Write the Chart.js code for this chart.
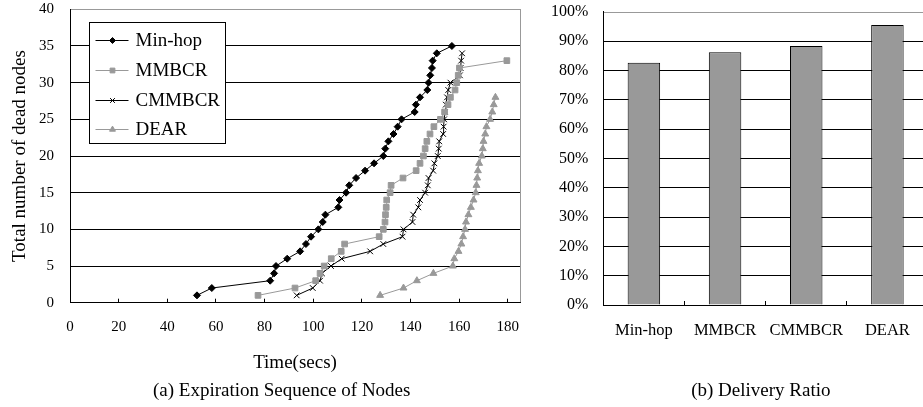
<!DOCTYPE html>
<html>
<head>
<meta charset="utf-8">
<script src="https://cdn.jsdelivr.net/npm/chart.js@4.4.0/dist/chart.umd.min.js"></script>
<style>
html,body{margin:0;padding:0;background:#fff;overflow:hidden;width:923px;height:407px;}
#ca{position:absolute;left:0;top:0;z-index:1;}
#cb{position:absolute;left:540px;top:0;z-index:2;}
</style>
</head>
<body>
<canvas id="ca" width="564" height="407"></canvas>
<canvas id="cb" width="442" height="407"></canvas>
<script>
// ---------- data: (a) expiration sequence ----------
const seriesNames = ['Min-hop', 'MMBCR', 'CMMBCR', 'DEAR'];
const minHopTime = [52.2, 58.3, 82.3, 83.9, 84.7, 89.3, 94.6, 97, 99.1, 102.1, 103.9, 105, 110.3, 110.8, 113.5, 114.8, 117.6, 121.3, 125, 128.8, 129.6, 130.9, 133, 134.7, 136.3, 141.7, 142.2, 143.9, 146.9, 147.4, 148.1, 148.8, 149.1, 150.8, 157];
const minHopDead = [1,2,3,4,5,6,7,8,9,10,11,12,13,14,15,16,17,18,19,20,21,22,23,24,25,26,27,28,29,30,31,32,33,34,35];
const mmbcrTime = [77.3, 92.5, 101, 102.8, 104.5, 107.4, 111.5, 112.9, 127.1, 128.8, 129.5, 129.7, 130, 130.2, 131.6, 132, 136.9, 142.3, 143.9, 145.3, 146, 146.7, 148, 149.6, 152.3, 154, 155.4, 156.4, 158.3, 159, 159.6, 160.1, 179.6];
const mmbcrDead = [1,2,3,4,5,6,7,8,9,10,11,12,13,14,15,16,17,18,19,20,21,22,23,24,25,26,27,28,29,30,31,32,33];
const cmmbcrTime = [93.2, 99.8, 102.8, 103.6, 107.3, 111.7, 123.4, 128.8, 136.7, 137.1, 140.8, 141.1, 143.2, 143.9, 146, 147.1, 147.4, 149.3, 149.8, 151.2, 151.6, 151.8, 153.4, 153.6, 153.8, 154.2, 154.5, 155, 155.5, 156.4, 160.3, 160.6, 160.8, 161.2];
const cmmbcrDead = [1,2,3,4,5,6,7,8,9,10,11,12,13,14,15,16,17,18,19,20,21,22,23,24,25,26,27,28,29,30,31,32,33,34];
const dearTime = [127.5, 137.1, 142.6, 149.4, 157.4, 158, 159.7, 160.9, 161.6, 162.4, 162.8, 163.8, 164.8, 165.9, 166.8, 167.1, 167.4, 167.7, 168.2, 169.3, 169.7, 170, 170.7, 171.2, 172.7, 173.6, 174.2, 174.9];
const dearDead = [1,2,3,4,5,6,7,8,9,10,11,12,13,14,15,16,17,18,19,20,21,22,23,24,25,26,27,28];
const xTickValues = [0, 20, 40, 60, 80, 100, 120, 140, 160, 180];
const yTickValues = [0, 5, 10, 15, 20, 25, 30, 35, 40];

// ---------- data: (b) delivery ratio ----------
const barCategories = ['Min-hop', 'MMBCR', 'CMMBCR', 'DEAR'];
const deliveryRatio = [82.6, 86.2, 88.3, 95.5];
const pctTickValues = [0, 10, 20, 30, 40, 50, 60, 70, 80, 90, 100];

const FAM = '"Liberation Serif", "Times New Roman", serif';
const pts = (xs, ys) => xs.map((x, i) => ({x: x, y: ys[i]}));

const frame = {
  id: 'frame',
  beforeDraw(chart) {
    const {ctx, chartArea: a} = chart;
    ctx.save();
    ctx.strokeStyle = '#999';
    ctx.lineWidth = 1;
    ctx.strokeRect(Math.round(a.left) + 0.5, Math.round(a.top) + 0.5, Math.round(a.right - a.left), Math.round(a.bottom - a.top));
    ctx.restore();
  }
};

function drawMarker(ctx, style, r, x, y) {
  if (Chart.helpers && Chart.helpers.drawPoint) {
    Chart.helpers.drawPoint(ctx, {pointStyle: style, radius: r, borderWidth: 1, rotation: 0}, x, y);
  }
}

const boxLegend = {
  id: 'boxLegend',
  afterDatasetsDraw(chart) {
    const {ctx, chartArea: a} = chart;
    const x0 = Math.round(a.left + 19) + 0.5, y0 = Math.round(a.top + 13) + 0.5, w = 136, h = 121;
    ctx.save();
    ctx.fillStyle = '#fff';
    ctx.fillRect(x0, y0, w, h);
    ctx.strokeStyle = '#000';
    ctx.lineWidth = 1;
    ctx.strokeRect(x0, y0, w, h);
    chart.data.datasets.forEach((ds, i) => {
      const cy = Math.round(y0 + 17.5 + i * 29.8) + 0.5;
      ctx.strokeStyle = ds.borderColor;
      ctx.lineWidth = 1;
      ctx.beginPath();
      ctx.moveTo(x0 + 6, cy);
      ctx.lineTo(x0 + 39, cy);
      ctx.stroke();
      ctx.fillStyle = ds.pointBackgroundColor;
      ctx.strokeStyle = ds.pointBorderColor;
      drawMarker(ctx, ds.pointStyle, ds.pointRadius * 0.85, x0 + 23, cy);
      ctx.fillStyle = '#000';
      ctx.font = '19px ' + FAM;
      ctx.textBaseline = 'middle';
      ctx.textAlign = 'left';
      ctx.fillText(ds.label, x0 + 46, cy + 1);
    });
    ctx.restore();
  }
};

// invisible spacer axis so that the bottom caption is centred where the reference has it
const spacerAxis = (w) => ({
  type: 'linear', position: 'right', display: true,
  grid: {display: false, drawTicks: false}, border: {display: false}, ticks: {display: false},
  afterFit: s => { s.width = w; s.paddingTop = 0; s.paddingBottom = 0; }
});

const lineDs = (label, xs, ys, color, style, r) => ({
  label: label, data: pts(xs, ys), showLine: true, tension: 0,
  borderColor: color, backgroundColor: color, borderWidth: 1,
  pointStyle: style, pointRadius: r, pointBackgroundColor: color,
  pointBorderColor: color, pointBorderWidth: 1, xAxisID: 'x', yAxisID: 'y'
});

new Chart(document.getElementById('ca'), {
  type: 'scatter',
  data: {
    datasets: [
      lineDs(seriesNames[0], minHopTime, minHopDead, '#000', 'rectRot', 3.5),
      lineDs(seriesNames[1], mmbcrTime, mmbcrDead, '#999', 'rect', 4),
      lineDs(seriesNames[2], cmmbcrTime, cmmbcrDead, '#000', 'crossRot', 4),
      lineDs(seriesNames[3], dearTime, dearDead, '#999', 'triangle', 4)
    ]
  },
  options: {
    responsive: false, animation: false, devicePixelRatio: 1,
    layout: {padding: {left: 0, right: 0.6, top: 9.3, bottom: 5}},
    plugins: {
      legend: {display: false}, tooltip: {enabled: false},
      title: {display: true, position: 'bottom', text: '(a) Expiration Sequence of Nodes', color: '#000',
        font: {family: FAM, size: 19, weight: 'normal'}, padding: {top: 0, bottom: 0}}
    },
    scales: {
      x: {
        type: 'linear', min: 0, max: 185,
        afterBuildTicks: s => { s.ticks = xTickValues.map(v => ({value: v})); },
        afterFit: s => { s.height = 76.5; s.paddingLeft = 0; s.paddingRight = 0; },
        grid: {drawOnChartArea: false, drawTicks: true, tickLength: -4, color: '#000', lineWidth: 1},
        border: {color: '#000', width: 1},
        ticks: {color: '#000', font: {family: FAM, size: 15}, padding: 19.8, maxRotation: 0, autoSkip: false},
        title: {display: true, text: 'Time(secs)', color: '#000', font: {family: FAM, size: 19}, padding: {top: 0, bottom: 4.8}}
      },
      y: {
        type: 'linear', position: 'left', min: 0, max: 40,
        afterBuildTicks: s => { s.ticks = yTickValues.map(v => ({value: v})); },
        afterFit: s => { s.width = 70; s.paddingTop = 0; s.paddingBottom = 0; },
        grid: {color: c => (c.tick && c.tick.value === 40) ? 'rgba(0,0,0,0)' : '#000', drawTicks: false, lineWidth: 1},
        border: {color: '#000', width: 1},
        ticks: {color: '#000', font: {family: FAM, size: 15}, padding: 16},
        title: {display: true, text: 'Total number of dead nodes', color: '#000', font: {family: FAM, size: 19}, padding: {top: 8.6, bottom: 0}}
      },
      spacer: spacerAxis(43.4)
    }
  },
  plugins: [frame, boxLegend]
});

new Chart(document.getElementById('cb'), {
  type: 'bar',
  data: {
    labels: barCategories,
    datasets: [{
      label: 'Delivery Ratio', data: deliveryRatio,
      backgroundColor: '#999', borderColor: '#000', borderWidth: 1,
      barPercentage: 0.4, categoryPercentage: 1, xAxisID: 'x', yAxisID: 'y'
    }]
  },
  options: {
    responsive: false, animation: false, devicePixelRatio: 1,
    layout: {padding: {left: 0, right: 0.4, top: 11.7, bottom: 5}},
    plugins: {
      legend: {display: false}, tooltip: {enabled: false},
      title: {display: true, position: 'bottom', text: '(b) Delivery Ratio', color: '#000',
        font: {family: FAM, size: 19, weight: 'normal'}, padding: {top: 0, bottom: 0}}
    },
    scales: {
      x: {
        afterFit: s => { s.height = 74.2; s.paddingLeft = 0; s.paddingRight = 0; },
        grid: {drawOnChartArea: false, drawTicks: true, tickLength: -4, color: '#000', lineWidth: 1, offset: true},
        border: {color: '#000', width: 1},
        ticks: {color: '#000', font: {family: FAM, size: 16.5}, padding: 20.1, maxRotation: 0, autoSkip: false}
      },
      y: {
        type: 'linear', position: 'left', min: 0, max: 100,
        afterBuildTicks: s => { s.ticks = pctTickValues.map(v => ({value: v})); },
        afterFit: s => { s.width = 63.3; s.paddingTop = 0; s.paddingBottom = 0; },
        grid: {color: c => (c.tick && c.tick.value === 100) ? 'rgba(0,0,0,0)' : '#000', drawTicks: false, lineWidth: 1},
        border: {color: '#000', width: 1},
        ticks: {color: '#000', font: {family: FAM, size: 16}, padding: 15, callback: v => v + '%'}
      },
      spacer: spacerAxis(53.6)
    }
  },
  plugins: [frame]
});
</script>
</body>
</html>
